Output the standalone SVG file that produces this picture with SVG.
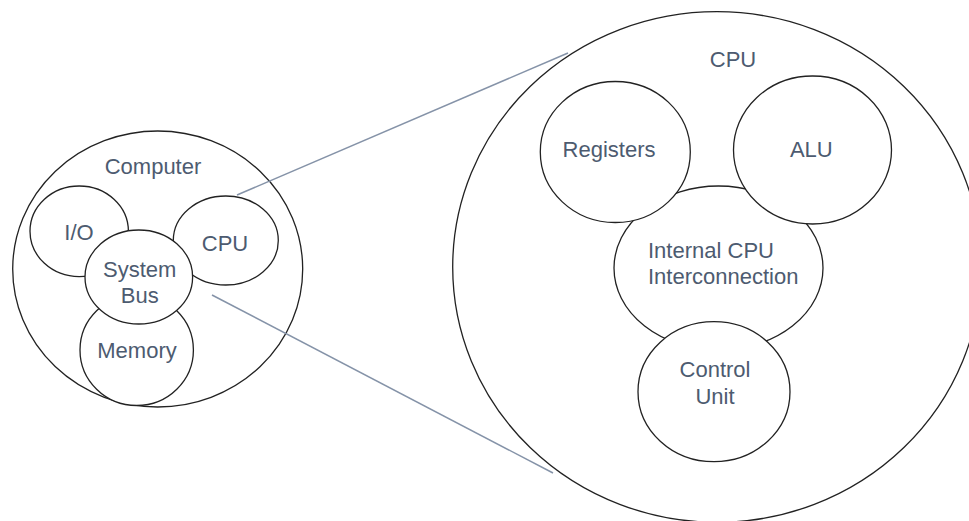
<svg xmlns="http://www.w3.org/2000/svg" width="969" height="521" viewBox="0 0 969 521">
<style>
.c{fill:#fff;stroke:#222;stroke-width:1.3}
.t{font-family:"Liberation Sans",Arial,sans-serif;font-size:22px;fill:#4d5b70;text-anchor:middle}
.l{fill:none;stroke:#8593a8;stroke-width:1.5}
</style>
<rect width="969" height="521" fill="#fff"/>
<g id="computer">
<ellipse class="c" cx="157.7" cy="269" rx="145" ry="138"/>
<text class="t" x="153" y="174">Computer</text>
</g>
<g id="io">
<ellipse class="c" cx="79.2" cy="231.3" rx="49.2" ry="45.3"/>
<text class="t" x="79" y="239.5">I/O</text>
</g>
<g id="cpu-small">
<ellipse class="c" cx="225.8" cy="240.5" rx="52.5" ry="44.5"/>
<text class="t" x="225" y="250.7">CPU</text>
</g>
<g id="memory">
<ellipse class="c" cx="136.7" cy="350" rx="56.7" ry="55.5"/>
<text class="t" x="137" y="358">Memory</text>
</g>
<g id="system-bus">
<ellipse class="c" cx="138.8" cy="277" rx="53.8" ry="47"/>
<text class="t" x="139.7" y="277.4">System</text>
<text class="t" x="139.7" y="302.7">Bus</text>
</g>
<g id="cpu-big">
<ellipse class="c" cx="717" cy="267" rx="264.3" ry="255.3"/>
<text class="t" x="733" y="66.7">CPU</text>
</g>
<g id="internal">
<ellipse class="c" cx="718.5" cy="268" rx="104.5" ry="82"/>
<text class="t" x="648" y="257.5" style="text-anchor:start">Internal CPU</text>
<text class="t" x="648" y="284.3" style="text-anchor:start">Interconnection</text>
</g>
<g id="registers">
<ellipse class="c" cx="615.3" cy="152" rx="75" ry="70.5"/>
<text class="t" x="609" y="157.4">Registers</text>
</g>
<g id="alu">
<ellipse class="c" cx="812.5" cy="150" rx="79" ry="74"/>
<text class="t" x="811.3" y="157.4">ALU</text>
</g>
<g id="control">
<ellipse class="c" cx="714" cy="391.7" rx="76" ry="70"/>
<text class="t" x="715" y="377.4">Control</text>
<text class="t" x="715" y="404">Unit</text>
</g>
<g id="connectors">
<line class="l" x1="237" y1="195" x2="568" y2="53"/>
<line class="l" x1="212" y1="295" x2="553" y2="473"/>
</g>
</svg>
